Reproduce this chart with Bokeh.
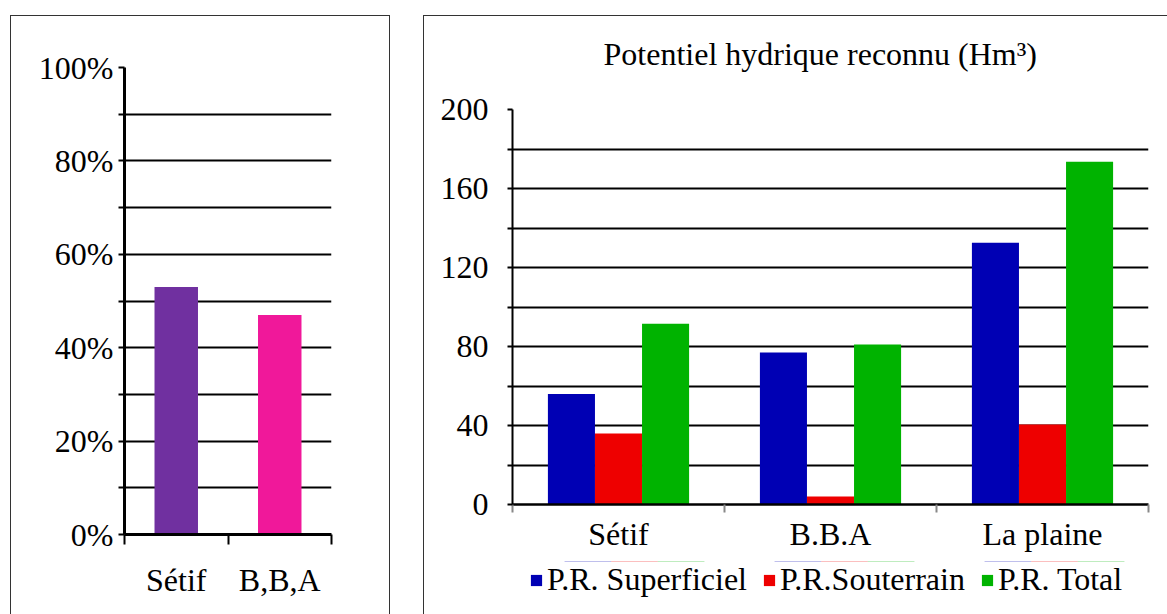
from bokeh.plotting import figure
from bokeh.models import Range1d, FixedTicker, Legend, LegendItem, ColumnDataSource, Title
from bokeh.embed import file_html
from bokeh.resources import INLINE

# ---------------- data ----------------
left_categories = ["Sétif", "B,B,A"]
left_values = [53, 47]          # percent
left_colors = ["#7030A0", "#F0189A"]
left_ticks = [0, 20, 40, 60, 80, 100]
left_minor = [10, 30, 50, 70, 90]

right_categories = ["Sétif", "B.B.A", "La plaine"]
pr_superficiel = [56, 77, 132.5]
pr_souterrain = [36, 4, 40.5]
pr_total = [91.5, 81, 173.5]
series_names = ["P.R. Superficiel", "P.R.Souterrain", "P.R. Total"]
series_colors = ["#0000B4", "#EE0000", "#00B300"]
right_ticks = [0, 40, 80, 120, 160, 200]
right_minor = [20, 60, 100, 140, 180]
title_text = "Potentiel hydrique reconnu (Hm³)"

FONT = "Liberation Serif"
FS = "32px"
BORDER = "1.5px solid #333"

# ---------------- left chart ----------------
p1 = figure(frame_width=207, frame_height=467, output_backend="svg", toolbar_location=None,
            x_range=Range1d(0, len(left_categories)), y_range=Range1d(0, 100),
            min_border_left=113, min_border_right=58, min_border_top=51, min_border_bottom=81)
p1.styles = {"position": "absolute", "left": "10px", "top": "15px",
             "border-top": BORDER, "border-left": BORDER, "border-right": BORDER}
p1.outline_line_color = None
p1.background_fill_color = "white"
p1.border_fill_color = "white"

src1 = ColumnDataSource(dict(x=[i + 0.5 for i in range(len(left_categories))],
                             top=left_values, color=left_colors))
p1.vbar(x="x", top="top", width=0.42, bottom=0, color="color", line_color=None, source=src1)

p1.yaxis.ticker = FixedTicker(ticks=left_ticks, minor_ticks=left_minor)
p1.yaxis.major_label_overrides = {t: f"{t}%" for t in left_ticks}
p1.ygrid.ticker = FixedTicker(ticks=left_ticks, minor_ticks=left_minor)
p1.ygrid.grid_line_color = "black"
p1.ygrid.grid_line_width = 2
p1.ygrid.minor_grid_line_color = "black"
p1.ygrid.minor_grid_line_width = 2
p1.xgrid.grid_line_color = None

p1.yaxis.axis_line_width = 3
p1.yaxis.major_tick_out = 6
p1.yaxis.major_tick_in = 0
p1.yaxis.minor_tick_out = 6
p1.yaxis.minor_tick_in = 0
p1.yaxis.major_tick_line_width = 2
p1.yaxis.minor_tick_line_width = 2
p1.yaxis.major_label_standoff = 5
p1.yaxis.major_label_text_font = FONT
p1.yaxis.major_label_text_font_size = FS
p1.yaxis.major_label_text_color = "black"

p1.xaxis.ticker = FixedTicker(ticks=[i + 0.5 for i in range(len(left_categories))],
                              minor_ticks=list(range(len(left_categories) + 1)))
p1.xaxis.major_label_overrides = {i + 0.5: c for i, c in enumerate(left_categories)}
p1.xaxis.axis_line_width = 3
p1.xaxis.major_tick_line_color = None
p1.xaxis.major_tick_out = 10
p1.xaxis.major_tick_in = 0
p1.xaxis.minor_tick_out = 10
p1.xaxis.minor_tick_in = 0
p1.xaxis.minor_tick_line_width = 2
p1.xaxis.minor_tick_line_color = "black"
p1.xaxis.major_label_standoff = 17
p1.xaxis.major_label_text_font = FONT
p1.xaxis.major_label_text_font_size = FS
p1.xaxis.major_label_text_color = "black"

# ---------------- right chart ----------------
p2 = figure(frame_width=636, frame_height=395, output_backend="svg", toolbar_location=None,
            x_range=Range1d(0, len(right_categories)), y_range=Range1d(0, 200),
            min_border_left=88, min_border_right=20, min_border_top=93, min_border_bottom=111)
p2.styles = {"position": "absolute", "left": "423px", "top": "15px",
             "border-top": BORDER, "border-left": BORDER}
p2.outline_line_color = None
p2.border_fill_color = "white"

# outer (default) title is the real title
p2.title.text = title_text
p2.title.text_font = FONT
p2.title.text_font_size = FS
p2.title.text_font_style = "normal"
p2.title.text_color = "black"
p2.title.align = "left"
p2.title.offset = 91
p2.title.standoff = 10
# inner spacer title keeps the real title higher above the frame
spacer = Title(text=" ", text_font_size="10px", standoff=20)
p2.add_layout(spacer, "above")

bw = 0.222
series = [pr_superficiel, pr_souterrain, pr_total]
for k, (vals, col) in enumerate(zip(series, series_colors)):
    xs = [i + 0.5 + (k - 1) * bw for i in range(len(right_categories))]
    p2.vbar(x=xs, top=vals, width=bw, bottom=0, color=col, line_color=None)

p2.yaxis.ticker = FixedTicker(ticks=right_ticks, minor_ticks=right_minor)
p2.ygrid.ticker = FixedTicker(ticks=right_ticks, minor_ticks=right_minor)
p2.ygrid.grid_line_color = "black"
p2.ygrid.grid_line_width = 2
p2.ygrid.minor_grid_line_color = "black"
p2.ygrid.minor_grid_line_width = 2
p2.xgrid.grid_line_color = None

p2.yaxis.axis_line_width = 2
p2.yaxis.major_tick_out = 5
p2.yaxis.major_tick_in = 0
p2.yaxis.minor_tick_out = 5
p2.yaxis.minor_tick_in = 0
p2.yaxis.major_tick_line_width = 2
p2.yaxis.minor_tick_line_width = 2
p2.yaxis.major_label_standoff = 19
p2.yaxis.major_label_text_font = FONT
p2.yaxis.major_label_text_font_size = FS
p2.yaxis.major_label_text_color = "black"

p2.xaxis.ticker = FixedTicker(ticks=[i + 0.5 for i in range(len(right_categories))],
                              minor_ticks=list(range(len(right_categories) + 1)))
p2.xaxis.major_label_overrides = {i + 0.5: c for i, c in enumerate(right_categories)}
p2.xaxis.axis_line_width = 2.5
p2.xaxis.major_tick_line_color = None
p2.xaxis.major_tick_out = 8
p2.xaxis.major_tick_in = 0
p2.xaxis.minor_tick_out = 8
p2.xaxis.minor_tick_in = 0
p2.xaxis.minor_tick_line_width = 2
p2.xaxis.minor_tick_line_color = "#888888"
p2.xaxis.major_label_standoff = 3
p2.xaxis.major_label_text_font = FONT
p2.xaxis.major_label_text_font_size = FS
p2.xaxis.major_label_text_color = "black"

# ---------------- legend (own small canvas under the right chart) ----------------
# the same series are plotted here out of view (y range below zero), only to feed the legend
p3 = figure(width=630, height=48, output_backend="svg", toolbar_location=None,
            x_axis_type=None, y_axis_type=None, min_border=0,
            x_range=Range1d(0, len(right_categories)), y_range=Range1d(-2, -1))
p3.styles = {"position": "absolute", "left": "529px", "top": "561px"}
p3.outline_line_color = None
p3.background_fill_alpha = 0
p3.border_fill_alpha = 0
items = []
for k, (vals, name, col) in enumerate(zip(series, series_names, series_colors)):
    xs = [i + 0.5 + (k - 1) * bw for i in range(len(right_categories))]
    r = p3.vbar(x=xs, top=vals, width=bw, bottom=0, color=col, line_color=None)
    items.append(LegendItem(label=name, renderers=[r]))
legend = Legend(items=items, orientation="horizontal", location="top_left",
                label_text_font=FONT, label_text_font_size=FS, label_text_color="black",
                glyph_width=14, glyph_height=14, label_standoff=4, spacing=15,
                padding=0, margin=0, border_line_color=None, background_fill_alpha=0)
p3.add_layout(legend)

open("out.html", "w").write(file_html([p1, p2, p3], INLINE))
